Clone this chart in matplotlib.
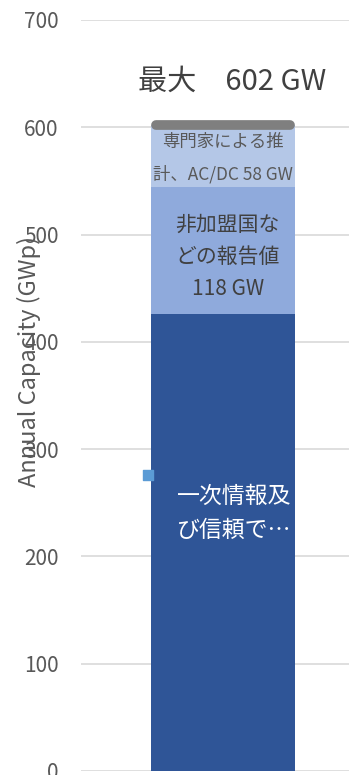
import matplotlib.pyplot as plt

plt.rcParams['font.family'] = ['Noto Sans CJK JP', 'DejaVu Sans']

# ========= data =========
segments = ["一次情報及\nび信頼で…", "非加盟国な\nどの報告値\n118 GW", "専門家による推\n計、AC/DC 58 GW"]
values = [426, 118, 58]
colors = ["#2F5597", "#8FAADC", "#B4C7E7"]
text_colors = ["white", "#404040", "#595959"]
total = sum(values)            # 602
marker_value = 276
y_ticks = [0, 100, 200, 300, 400, 500, 600, 700]

# text look per segment (size, line spacing, x shift)
text_sizes = [16.5, 15, 12.5]
text_spacing = [1.65, 1.6, 1.95]
text_dx = [0.04, 0.017, 0.0]

fig = plt.figure(figsize=(3.49, 7.75), dpi=100)
ax = fig.add_axes([0.232, 0.0052, 0.768, 0.9690])

bar_x = 0.03
bar_w = 0.54
bottom = 0
label_y = []
for v, c in zip(values, colors):
    ax.bar(bar_x, v, width=bar_w, bottom=bottom, color=c, zorder=2)
    label_y.append(bottom + v / 2)
    bottom += v

# Excel puts the first two labels away from the segment middle
label_y[0] = 240
label_y[1] = 479
label_y[2] = 571
for i, txt in enumerate(segments):
    ax.text(bar_x + text_dx[i], label_y[i], txt, ha='center', va='center',
            color=text_colors[i], fontsize=text_sizes[i],
            linespacing=text_spacing[i], zorder=3)

# grey cap at the total
ax.plot([bar_x - bar_w / 2 + 0.02, bar_x + bar_w / 2 - 0.02], [total, total],
        color="#7F7F7F", lw=7, solid_capstyle='round', zorder=4)
ax.text(bar_x + 0.035, total + 40, f"最大　{total} GW", ha='center', va='center',
        fontsize=21, color="#404040")

# small square marker
ax.scatter([bar_x - bar_w / 2 - 0.01], [marker_value], marker='s', s=60,
           color="#5B9BD5", zorder=5, clip_on=False)

ax.set_xlim(-0.5, 0.5)
ax.set_ylim(0, 700)
ax.set_yticks(y_ticks)
ax.set_xticks([])
ax.tick_params(axis='y', length=0, pad=16, labelsize=15, labelcolor="#595959")
ax.grid(axis='y', color="#D9D9D9", lw=1.2, zorder=0)
ax.set_axisbelow(True)
for s in ax.spines.values():
    s.set_visible(False)

ax.set_ylabel("Annual Capacity (GWp)", fontsize=17, color="#595959")
ax.yaxis.set_label_coords(-0.15, 0.545)

fig.savefig("out.png", dpi=100)
